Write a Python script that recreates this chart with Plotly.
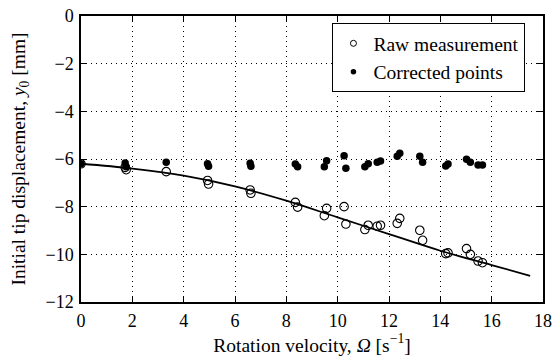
import plotly.graph_objects as go

omega_raw = [0, 1.72, 1.76, 3.32, 4.93, 4.97, 6.59, 6.62, 8.35, 8.44, 9.48, 9.57, 10.25, 10.32,
             11.06, 11.19, 11.54, 11.67, 12.32, 12.42, 13.2, 13.31, 14.21, 14.3, 15.02, 15.17, 15.47, 15.64]
y_raw = [-6.2, -6.35, -6.45, -6.53, -6.9, -7.05, -7.3, -7.44, -7.82, -8.02, -8.38, -8.07, -8.0, -8.73,
         -8.96, -8.78, -8.82, -8.78, -8.7, -8.49, -8.99, -9.41, -9.97, -9.94, -9.76, -10.0, -10.28, -10.35]
omega_cor = omega_raw
y_cor = [-6.2, -6.17, -6.33, -6.14, -6.2, -6.3, -6.18, -6.3, -6.21, -6.32, -6.32, -6.07, -5.86, -6.39,
         -6.32, -6.2, -6.14, -6.08, -5.88, -5.76, -5.88, -6.14, -6.29, -6.21, -6.01, -6.14, -6.25, -6.25]
omega_fit = [0, 2, 4, 6, 8, 10, 12, 14, 16, 17.5]
y_fit = [-6.2, -6.4, -6.7, -7.15, -7.75, -8.45, -9.15, -9.85, -10.45, -10.9]

x_ticks = [0, 2, 4, 6, 8, 10, 12, 14, 16, 18]
y_ticks = [0, -2, -4, -6, -8, -10, -12]

FAM = "'Liberation Serif', 'Times New Roman', Tinos, 'DejaVu Serif'"
tick_font = dict(family=FAM, size=18, color="black")
title_font = dict(family=FAM, size=19.5, color="black")
legend_font = dict(family=FAM, size=19.5, color="black")

fig = go.Figure()
fig.add_trace(go.Scatter(x=omega_fit, y=y_fit, mode="lines", line=dict(color="black", width=1.8, shape="spline"),
                         showlegend=False, hoverinfo="skip"))
fig.add_trace(go.Scatter(x=omega_raw, y=y_raw, mode="markers", name="Raw measurement", showlegend=False,
                         marker=dict(symbol="circle-open", size=8.5, color="black", line=dict(width=1.1))))
fig.add_trace(go.Scatter(x=omega_cor, y=y_cor, mode="markers", name="Corrected points", showlegend=False,
                         marker=dict(symbol="circle", size=7.5, color="black")))
# legend entries with small symbols, as in the reference
fig.add_trace(go.Scatter(x=[None], y=[None], mode="markers", name="Raw measurement",
                         marker=dict(symbol="circle-open", size=6, color="black", line=dict(width=1))))
fig.add_trace(go.Scatter(x=[None], y=[None], mode="markers", name="Corrected points",
                         marker=dict(symbol="circle", size=5.5, color="black")))

axis_common = dict(showline=True, linecolor="black", linewidth=1.5, mirror="ticks", ticks="inside",
                   ticklen=6, tickcolor="black", showgrid=True, gridcolor="black", griddash="1px,4px",
                   gridwidth=1, zeroline=False, tickfont=tick_font, automargin=False)

fig.update_layout(
    width=552, height=359,
    margin=dict(l=81, r=9, t=16, b=57),
    paper_bgcolor="white", plot_bgcolor="white",
    font=tick_font,
    xaxis=dict(range=[0, 18], tickvals=x_ticks, ticklabelstandoff=2,
               title=dict(text="Rotation velocity, <i>Ω</i> [s<sup>−1</sup>]", font=title_font, standoff=7),
               **axis_common),
    yaxis=dict(range=[-12, 0], tickvals=y_ticks, ticklabelstandoff=2,
               title=dict(text="Initial tip displacement, <i>y</i><sub>0</sub> [mm]", font=title_font, standoff=15),
               **axis_common),
    legend=dict(x=0.962, y=0.975, xanchor="right", yanchor="top", bgcolor="white", bordercolor="black",
                borderwidth=1, font=legend_font, itemwidth=30, tracegroupgap=0),
)

fig.write_html("out.html")
